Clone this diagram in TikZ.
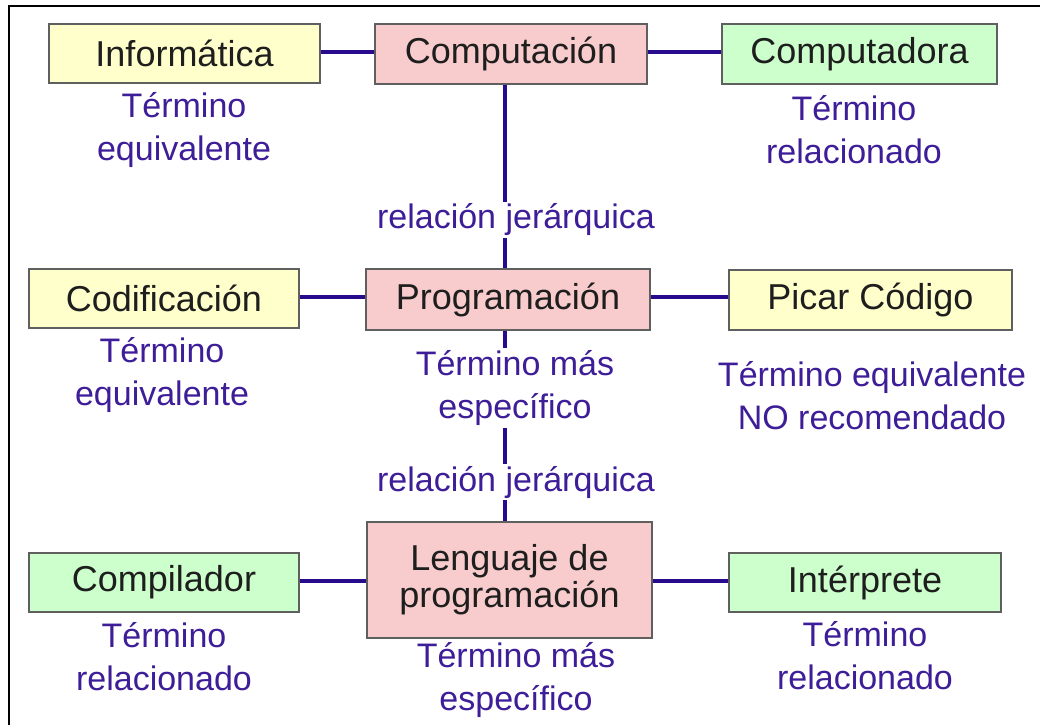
\documentclass[tikz,border=0pt]{standalone}
\usepackage{fontspec}
\setmainfont{Liberation Sans}
\definecolor{linecol}{RGB}{40,10,140}
\definecolor{labcol}{RGB}{62,30,152}
\definecolor{boxtext}{RGB}{30,30,30}
\definecolor{boxline}{RGB}{95,95,95}
\definecolor{yelfill}{RGB}{255,255,204}
\definecolor{pinkfill}{RGB}{248,204,204}
\definecolor{grnfill}{RGB}{204,255,204}
\tikzset{
  termbox/.style={draw=boxline, line width=1.6pt, inner sep=0pt, text=boxtext,
    font=\fontsize{36}{37}\selectfont, align=center},
  yelbox/.style={termbox, fill=yelfill},
  pinkbox/.style={termbox, fill=pinkfill},
  grnbox/.style={termbox, fill=grnfill},
  lab/.style={text=labcol, font=\fontsize{34}{43}\selectfont, align=center, inner sep=1pt},
  wlab/.style={lab, fill=white, inner sep=2pt},
  conn/.style={draw=linecol, line width=4pt}
}
\begin{document}
\begin{tikzpicture}[x=1pt,y=-1pt]
\useasboundingbox (0,0) rectangle (1040,724);
\fill[white] (0,0) rectangle (1040,724);
\draw[line width=2.6pt, black] (9,740) -- (9,6) -- (1050,6);

% boxes
\node[yelbox, minimum width=271pt, minimum height=59pt] (inf) at (184.5,53.5) {Informática};
\node[pinkbox, minimum width=272pt, minimum height=60pt] (comp) at (511,54) {Computación};
\node[grnbox, minimum width=275pt, minimum height=60pt] (compu) at (859.5,54) {Computadora};
\node[yelbox, minimum width=270pt, minimum height=59pt] (cod) at (164,298.5) {Codificación};
\node[pinkbox, minimum width=284pt, minimum height=61pt] (prog) at (508,299.5) {Programación};
\node[yelbox, minimum width=283pt, minimum height=60pt] (picar) at (870.5,300) {Picar Código};
\node[grnbox, minimum width=270pt, minimum height=59pt] (compil) at (164,582.5) {Compilador};
\node[pinkbox, minimum width=285pt, minimum height=116pt] (leng) at (509.5,580) {Lenguaje de\\programación};
\node[grnbox, minimum width=272pt, minimum height=59pt] (interp) at (865,582.5) {Intérprete};

\coordinate (vx) at (505,0);
\coordinate (r1) at (0,52);
\coordinate (r2) at (0,297);
\coordinate (r3) at (0,581);

% connectors
\draw[conn] (inf.east |- r1) -- (comp.west |- r1);
\draw[conn] (comp.east |- r1) -- (compu.west |- r1);
\draw[conn] (cod.east |- r2) -- (prog.west |- r2);
\draw[conn] (prog.east |- r2) -- (picar.west |- r2);
\draw[conn] (compil.east |- r3) -- (leng.west |- r3);
\draw[conn] (leng.east |- r3) -- (interp.west |- r3);
\draw[conn] (comp.south -| vx) -- (prog.north -| vx);
\draw[conn] (prog.south -| vx) -- (leng.north -| vx);

% labels
\node[lab] (linf) at (184,130) {Término\\equivalente};
\node[lab] (lcompu) at (854,130) {Término\\relacionado};
\node[wlab] (rel1) at (516,220) {relación jerárquica};
\node[lab] (lcod) at (162,375) {Término\\equivalente};
\node[wlab] (lprog) at (515,388) {Término más\\específico};
\node[lab] (lpicar) at (872,396) {Término equivalente\\NO recomendado};
\node[wlab] (rel2) at (516,482) {relación jerárquica};
\node[lab] (lcompil) at (164,657) {Término\\relacionado};
\node[lab] (lleng) at (516,680) {Término más\\específico};
\node[lab] (linterp) at (865,656) {Término\\relacionado};
\end{tikzpicture}
\end{document}
